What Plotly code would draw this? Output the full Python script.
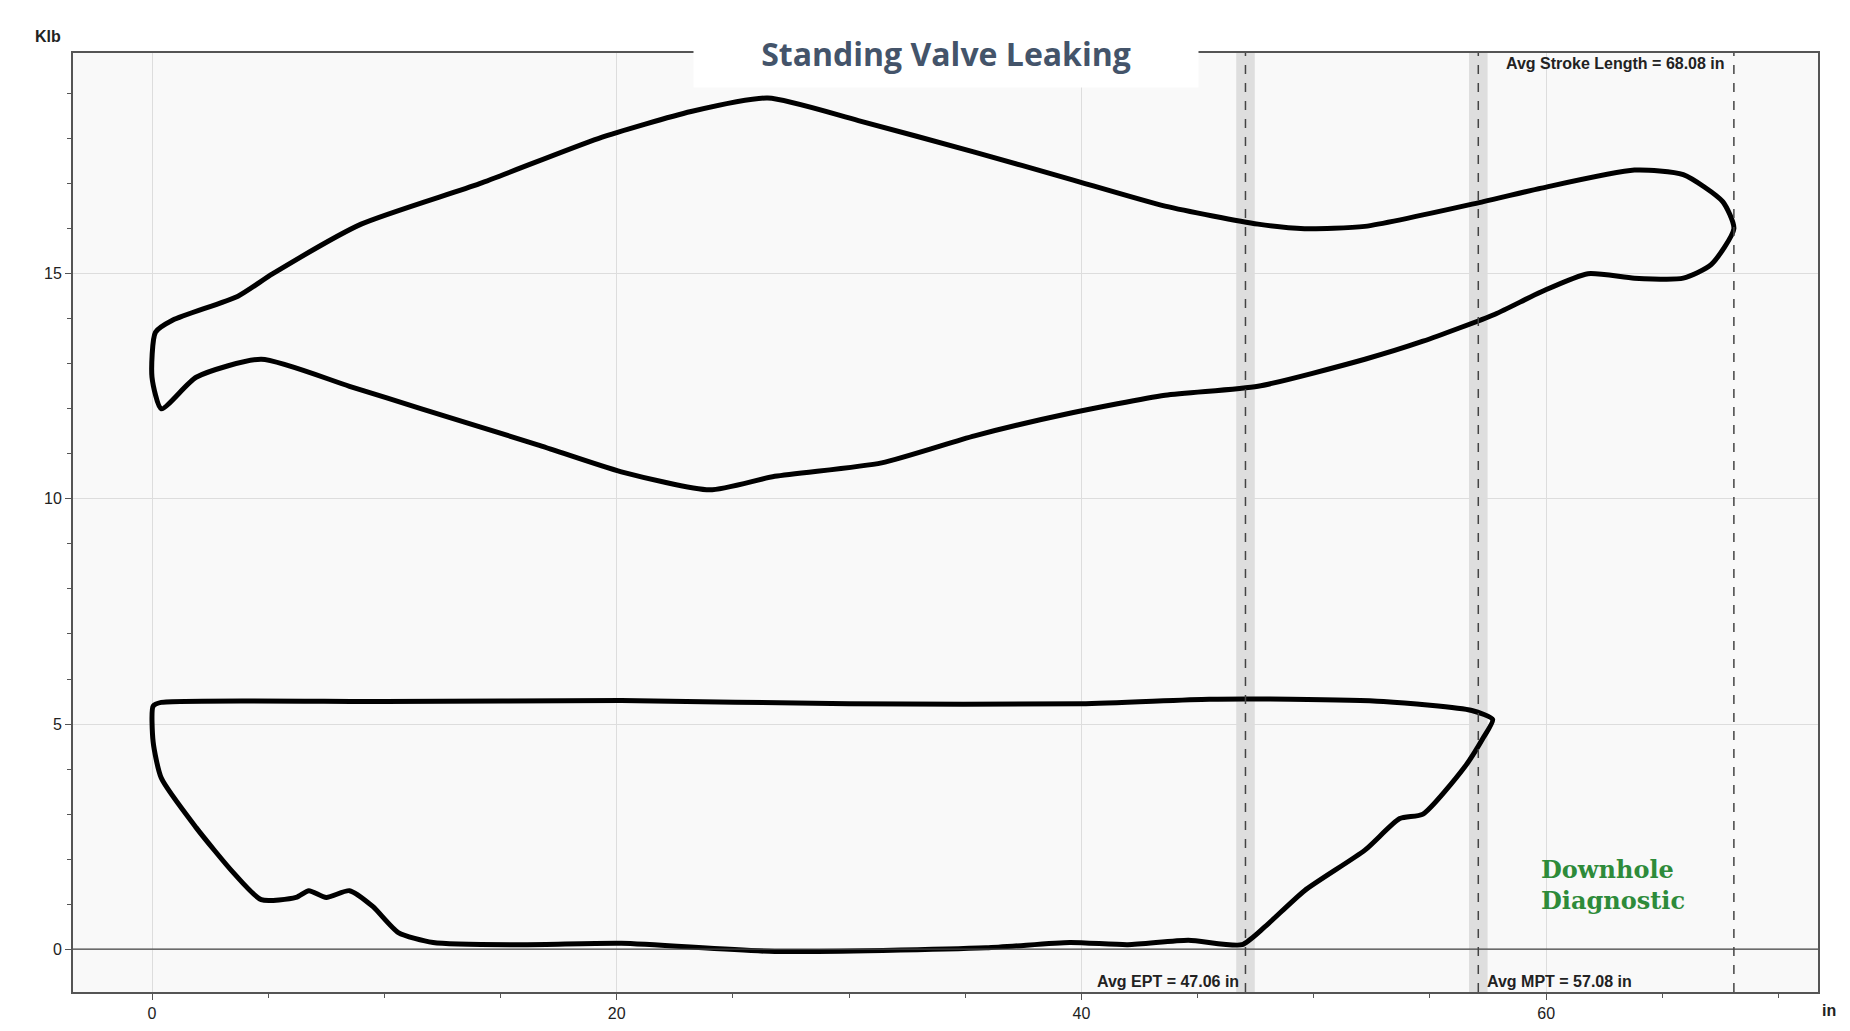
import plotly.graph_objects as go

# Upper loop (pump card, upper) - position (in), load (Klb)
upper_x = [0.15, 0.9, 3.7, 5.2, 9.0, 14.1, 19.2, 23.2, 26.5, 30.4, 35.4, 39.5, 43.6, 47.6, 49.6, 52.2,
           57.3, 59.8, 63.8, 65.9, 67.6, 68.08, 67.1, 65.9, 63.8, 61.8, 59.8, 57.8, 54.7, 52.2, 47.6,
           43.6, 39.5, 35.4, 31.4, 26.8, 24.0, 20.2, 16.6, 11.6, 8.5, 4.7, 1.9, 0.4, 0.0, 0.15]
upper_y = [13.7, 13.97, 14.5, 15.0, 16.1, 17.0, 18.0, 18.6, 18.9, 18.4, 17.7, 17.1, 16.5, 16.1, 16.0, 16.05,
           16.6, 16.9, 17.3, 17.2, 16.6, 16.0, 15.2, 14.9, 14.9, 15.0, 14.6, 14.1, 13.5, 13.1, 12.5,
           12.3, 11.9, 11.4, 10.8, 10.5, 10.2, 10.6, 11.2, 12.0, 12.5, 13.1, 12.7, 12.0, 12.7, 13.7]

# Lower loop
lower_x = [0.4, 10.0, 20.2, 30.0, 40.0, 45.5, 49.0, 53.0, 56.8, 57.7, 57.3, 56.5, 54.7, 53.7, 52.2,
           49.6, 47.9, 46.9, 44.6, 42.0, 39.5, 35.9, 26.8, 20.2, 16.1, 12.1, 10.6, 9.5, 8.5, 7.5,
           6.75, 6.2, 4.7, 3.5, 1.9, 0.4, 0.05, 0.05, 0.4]
lower_y = [5.48, 5.5, 5.52, 5.45, 5.45, 5.55, 5.55, 5.5, 5.3, 5.1, 4.7, 4.05, 3.0, 2.9, 2.2,
           1.3, 0.5, 0.1, 0.2, 0.1, 0.15, 0.03, -0.05, 0.13, 0.1, 0.15, 0.37, 0.95, 1.3, 1.15,
           1.3, 1.15, 1.1, 1.7, 2.7, 3.8, 4.6, 5.4, 5.48]

avg_ept = 47.06
avg_mpt = 57.08
avg_stroke = 68.08

fig = go.Figure()
for xs, ys in [(upper_x, upper_y), (lower_x, lower_y)]:
    fig.add_trace(go.Scatter(x=xs, y=ys, mode='lines',
                             line=dict(color='black', width=5, shape='spline', smoothing=0.6),
                             hoverinfo='skip'))

shapes = []
for v in [avg_ept, avg_mpt]:
    shapes.append(dict(type='rect', xref='x', yref='paper', x0=v - 0.4, x1=v + 0.4, y0=0, y1=1,
                       fillcolor='rgba(200,200,200,0.55)', line_width=0, layer='below'))
for v in [avg_ept, avg_mpt, avg_stroke]:
    shapes.append(dict(type='line', xref='x', yref='paper', x0=v, x1=v, y0=0, y1=1,
                       line=dict(color='#444', width=1.5, dash='dash')))
shapes.append(dict(type='line', xref='paper', yref='y', x0=0, x1=1, y0=0, y1=0,
                   line=dict(color='#444', width=1.2)))

label_font = dict(size=16, color='#222', family='Liberation Sans')
annotations = [
    dict(x=avg_ept - 0.2, y=0, xref='x', yref='paper', xanchor='right', yanchor='bottom',
         text='<b>Avg EPT = 47.06 in</b>', showarrow=False, font=label_font),
    dict(x=avg_mpt + 0.3, y=0, xref='x', yref='paper', xanchor='left', yanchor='bottom',
         text='<b>Avg MPT = 57.08 in</b>', showarrow=False, font=label_font),
    dict(x=avg_stroke - 0.3, y=1, xref='x', yref='paper', xanchor='right', yanchor='top',
         text='<b>Avg Stroke Length = 68.08 in</b>', showarrow=False, font=label_font),
    dict(x=0, y=1, xref='paper', yref='paper', xanchor='right', yanchor='bottom', xshift=-10, yshift=6,
         text='<b>Klb</b>', showarrow=False, font=label_font),
    dict(x=1, y=0, xref='paper', yref='paper', xanchor='left', yanchor='top', xshift=2, yshift=-8,
         text='<b>in</b>', showarrow=False, font=label_font),
    dict(x=0.5, y=1.0, xref='paper', yref='paper', xanchor='center', yanchor='middle', showarrow=False,
         text='<b>Standing Valve Leaking</b>', font=dict(size=32, color='#44546A', family='Open Sans'),
         bgcolor='white', borderpad=12, width=480),
    dict(x=0.925, y=0.08, xref='paper', yref='paper', showarrow=False, align='left',
         text='<b>Downhole<br>Diagnostic</b>', font=dict(size=24, color='#2E8B3A', family='DejaVu Serif')),
]

fig.update_layout(
    width=1850, height=1031,
    margin=dict(l=65, r=40, t=45, b=47),
    paper_bgcolor='white', plot_bgcolor='#F9F9F9',
    showlegend=False,
    shapes=shapes, annotations=annotations,
    font=dict(family='Liberation Sans', size=16, color='#222'),
    xaxis=dict(range=[-3.4, 71.7], tickvals=[0, 20, 40, 60], showgrid=True, gridcolor='#DDDDDD',
               zeroline=False, showline=True, linecolor='#555', linewidth=2, mirror=True,
               ticks='outside', ticklen=6, tickcolor='#555',
               minor=dict(dtick=5, ticks='outside', ticklen=4, tickcolor='#555', showgrid=False),
               tickfont=dict(size=16, family='Liberation Sans')),
    yaxis=dict(range=[-0.95, 19.9], tickvals=[0, 5, 10, 15], showgrid=True, gridcolor='#DDDDDD',
               zeroline=False, showline=True, linecolor='#555', linewidth=2, mirror=True,
               ticks='outside', ticklen=6, tickcolor='#555',
               minor=dict(dtick=1, ticks='outside', ticklen=4, tickcolor='#555', showgrid=False),
               tickfont=dict(size=16, family='Liberation Sans')),
)

fig.write_html('out.html')
